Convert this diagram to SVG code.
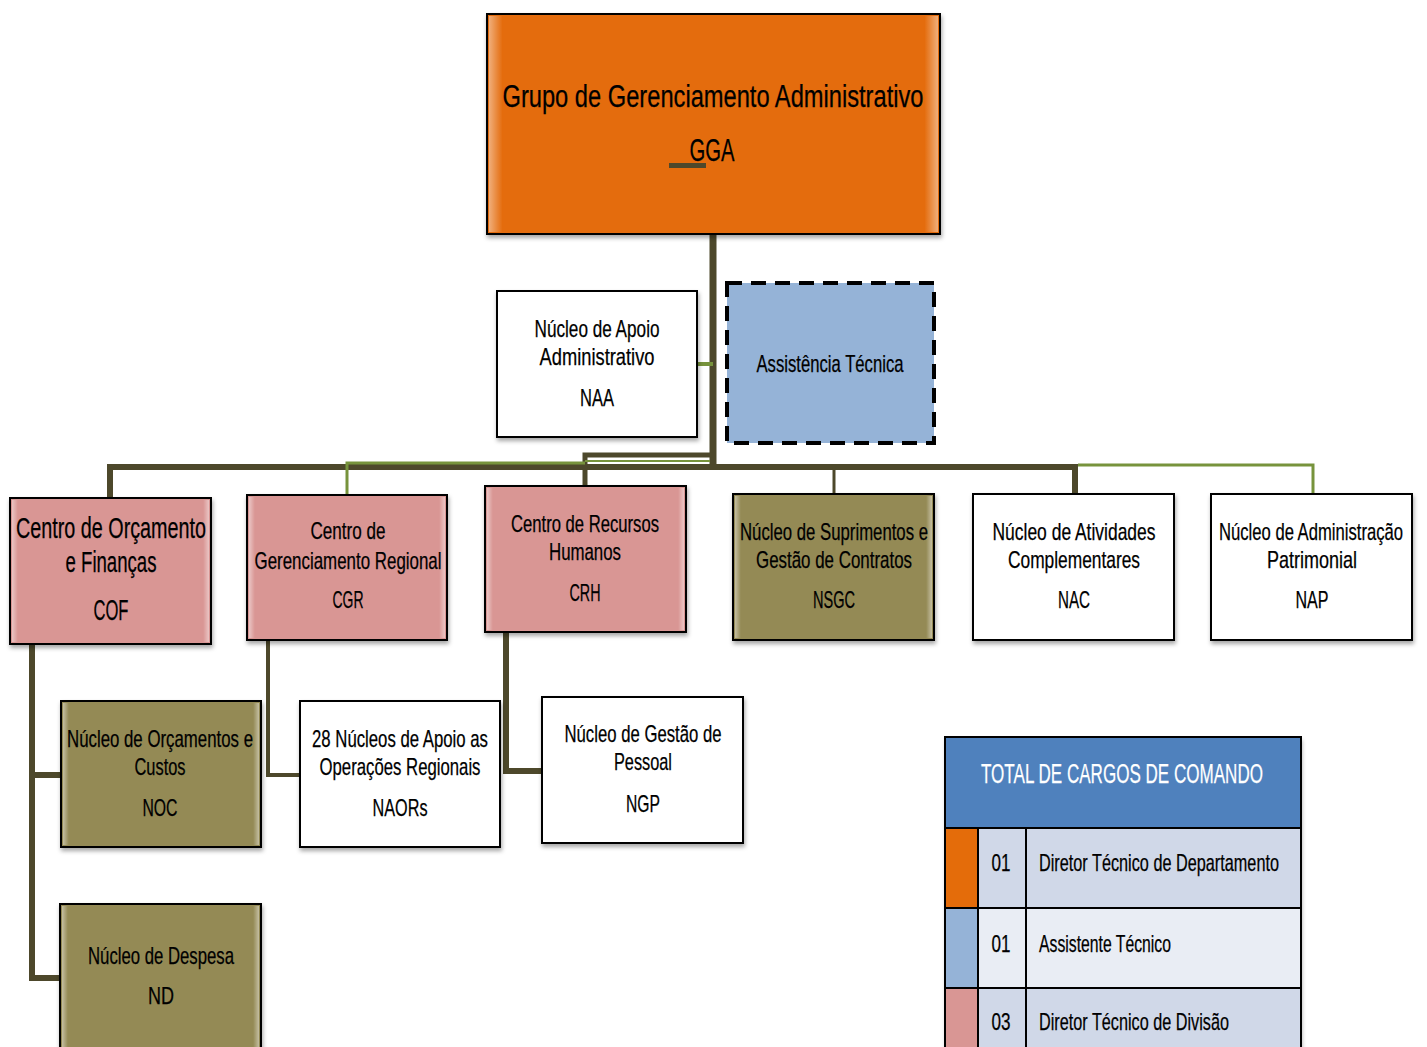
<svg xmlns="http://www.w3.org/2000/svg" width="1427" height="1047" viewBox="0 0 1427 1047">
<defs>
<filter id="sh" x="-10%" y="-10%" width="125%" height="125%">
<feDropShadow dx="1" dy="3" stdDeviation="2" flood-color="#000" flood-opacity="0.35"/>
</filter>
<linearGradient id="bev" x1="0" y1="0" x2="1" y2="0">
<stop offset="0" stop-color="#fff" stop-opacity="0.45"/>
<stop offset="0.03" stop-color="#fff" stop-opacity="0"/>
<stop offset="0.97" stop-color="#fff" stop-opacity="0"/>
<stop offset="1" stop-color="#fff" stop-opacity="0.45"/>
</linearGradient>
</defs>
<style>
.box{stroke:#000;stroke-width:2;filter:url(#sh)}
.or{fill:#E46C0A}
.pk{fill:#D99694}
.ol{fill:#948A54}
.wh{fill:#fff}
.bl{fill:#95B3D7}
.bev{fill:url(#bev);stroke:none}
text{font-family:"Liberation Sans Narrow","Liberation Sans",Arial,sans-serif;fill:#000;text-anchor:middle;font-size:24px;stroke:#000;stroke-width:0.25px}
.big{font-size:29px}
.ttl{font-size:31px}
.hd{font-size:27px;fill:#fff;stroke:#fff}
.lt{text-anchor:start}
.dk{fill:none;stroke:#4D482B;stroke-linejoin:miter}
.gr{fill:none;stroke:#77933C}
</style>

<g id="connectors">
<path class="dk" d="M713 234 V467" stroke-width="7"/>
<path class="gr" d="M697 364 H713" stroke-width="4"/>
<path class="dk" d="M110 498 V467 H1075 V494" stroke-width="6"/>
<path class="dk" d="M585 486 V455 H713" stroke-width="5"/>
<path class="gr" d="M585 461 H710" stroke-width="2"/>
<path class="gr" d="M347 495 V463 H585" stroke-width="3"/>
<path class="dk" d="M834 467 V494" stroke-width="3"/>
<path class="gr" d="M1078 465 H1313 V494" stroke-width="3"/>
<path class="dk" d="M32 644 V978 H61 M32 775 H61" stroke-width="6"/>
<path class="dk" d="M268 640 V775 H300" stroke-width="4"/>
<path class="dk" d="M506 632 V771 H542" stroke-width="6"/>
</g>

<g id="gga">
<rect class="box or" x="487" y="14" width="453" height="220"/>
<rect class="bev" x="489" y="16" width="449" height="216"/>
<text class="ttl" x="713" y="107" textLength="421" lengthAdjust="spacingAndGlyphs">Grupo de  Gerenciamento  Administrativo</text>
<text class="ttl" x="712" y="161" textLength="45" lengthAdjust="spacingAndGlyphs">GGA</text>
<rect x="669" y="163" width="37" height="5" fill="#4D482B"/>
</g>

<g id="naa">
<rect class="box wh" x="497" y="291" width="200" height="146"/>
<text x="597" y="337" textLength="125" lengthAdjust="spacingAndGlyphs">Núcleo de Apoio</text>
<text x="597" y="365" textLength="115" lengthAdjust="spacingAndGlyphs">Administrativo</text>
<text x="597" y="406" textLength="34" lengthAdjust="spacingAndGlyphs">NAA</text>
</g>

<g id="at">
<rect class="bl" x="727" y="283" width="207" height="160" stroke="#000" stroke-width="4" stroke-dasharray="15 9"/>
<text x="830" y="372" textLength="147" lengthAdjust="spacingAndGlyphs">Assistência Técnica</text>
</g>

<g id="cof">
<rect class="box pk" x="10" y="498" width="201" height="146"/>
<rect class="bev" x="12" y="500" width="197" height="142"/>
<text class="big" x="111" y="538" textLength="190" lengthAdjust="spacingAndGlyphs">Centro de Orçamento</text>
<text class="big" x="111" y="572" textLength="91" lengthAdjust="spacingAndGlyphs">e Finanças</text>
<text class="big" x="111" y="620" textLength="35" lengthAdjust="spacingAndGlyphs">COF</text>
</g>

<g id="cgr">
<rect class="box pk" x="247" y="495" width="200" height="145"/>
<rect class="bev" x="249" y="497" width="196" height="141"/>
<text x="348" y="539" textLength="75" lengthAdjust="spacingAndGlyphs">Centro de</text>
<text x="348" y="569" textLength="187" lengthAdjust="spacingAndGlyphs">Gerenciamento Regional</text>
<text x="348" y="608" textLength="31" lengthAdjust="spacingAndGlyphs">CGR</text>
</g>

<g id="crh">
<rect class="box pk" x="485" y="486" width="201" height="146"/>
<rect class="bev" x="487" y="488" width="197" height="142"/>
<text x="585" y="532" textLength="148" lengthAdjust="spacingAndGlyphs">Centro de Recursos</text>
<text x="585" y="560" textLength="72" lengthAdjust="spacingAndGlyphs">Humanos</text>
<text x="585" y="601" textLength="31" lengthAdjust="spacingAndGlyphs">CRH</text>
</g>

<g id="nsgc">
<rect class="box ol" x="733" y="494" width="201" height="146"/>
<rect class="bev" x="735" y="496" width="197" height="142"/>
<text x="834" y="540" textLength="188" lengthAdjust="spacingAndGlyphs">Núcleo de Suprimentos e</text>
<text x="834" y="568" textLength="156" lengthAdjust="spacingAndGlyphs">Gestão de Contratos</text>
<text x="834" y="608" textLength="42" lengthAdjust="spacingAndGlyphs">NSGC</text>
</g>

<g id="nac">
<rect class="box wh" x="973" y="494" width="201" height="146"/>
<text x="1074" y="540" textLength="163" lengthAdjust="spacingAndGlyphs">Núcleo de Atividades</text>
<text x="1074" y="568" textLength="132" lengthAdjust="spacingAndGlyphs">Complementares</text>
<text x="1074" y="608" textLength="32" lengthAdjust="spacingAndGlyphs">NAC</text>
</g>

<g id="nap">
<rect class="box wh" x="1211" y="494" width="201" height="146"/>
<text x="1311" y="540" textLength="184" lengthAdjust="spacingAndGlyphs">Núcleo de Administração</text>
<text x="1312" y="568" textLength="90" lengthAdjust="spacingAndGlyphs">Patrimonial</text>
<text x="1312" y="608" textLength="33" lengthAdjust="spacingAndGlyphs">NAP</text>
</g>

<g id="noc">
<rect class="box ol" x="61" y="701" width="200" height="146"/>
<rect class="bev" x="63" y="703" width="196" height="142"/>
<text x="160" y="747" textLength="186" lengthAdjust="spacingAndGlyphs">Núcleo de Orçamentos e</text>
<text x="160" y="775" textLength="51" lengthAdjust="spacingAndGlyphs">Custos</text>
<text x="160" y="816" textLength="35" lengthAdjust="spacingAndGlyphs">NOC</text>
</g>

<g id="naors">
<rect class="box wh" x="300" y="701" width="200" height="146"/>
<text x="400" y="747" textLength="176" lengthAdjust="spacingAndGlyphs">28 Núcleos de Apoio as</text>
<text x="400" y="775" textLength="161" lengthAdjust="spacingAndGlyphs">Operações Regionais</text>
<text x="400" y="816" textLength="55" lengthAdjust="spacingAndGlyphs">NAORs</text>
</g>

<g id="ngp">
<rect class="box wh" x="542" y="697" width="201" height="146"/>
<text x="643" y="742" textLength="157" lengthAdjust="spacingAndGlyphs">Núcleo de Gestão de</text>
<text x="643" y="770" textLength="58" lengthAdjust="spacingAndGlyphs">Pessoal</text>
<text x="643" y="812" textLength="34" lengthAdjust="spacingAndGlyphs">NGP</text>
</g>

<g id="nd">
<rect class="box ol" x="60" y="904" width="201" height="160"/>
<rect class="bev" x="62" y="906" width="197" height="156"/>
<text x="161" y="964" textLength="146" lengthAdjust="spacingAndGlyphs">Núcleo de Despesa</text>
<text x="161" y="1004" textLength="26" lengthAdjust="spacingAndGlyphs">ND</text>
</g>

<g id="table">
<rect x="945" y="737" width="356" height="320" fill="#fff" filter="url(#sh)"/>
<rect x="945" y="737" width="356" height="91" fill="#4F81BD" stroke="#000" stroke-width="2"/>
<text class="hd" x="1122" y="783" textLength="282" lengthAdjust="spacingAndGlyphs">TOTAL DE CARGOS DE COMANDO</text>
<rect x="945" y="828" width="356" height="80" fill="#D0D8E8" stroke="#000" stroke-width="2"/>
<rect x="945" y="908" width="356" height="80" fill="#E9EDF4" stroke="#000" stroke-width="2"/>
<rect x="945" y="988" width="356" height="80" fill="#D0D8E8" stroke="#000" stroke-width="2"/>
<rect x="946" y="829" width="32" height="78" fill="#E46C0A"/>
<rect x="946" y="909" width="32" height="78" fill="#95B3D7"/>
<rect x="946" y="989" width="32" height="78" fill="#D99694"/>
<path d="M978 828 V1047 M1026 828 V1047" stroke="#000" stroke-width="2"/>
<text x="1001" y="871" textLength="19" lengthAdjust="spacingAndGlyphs">01</text>
<text class="lt" x="1039" y="871" textLength="240" lengthAdjust="spacingAndGlyphs">Diretor Técnico de Departamento</text>
<text x="1001" y="952" textLength="19" lengthAdjust="spacingAndGlyphs">01</text>
<text class="lt" x="1039" y="952" textLength="132" lengthAdjust="spacingAndGlyphs">Assistente Técnico</text>
<text x="1001" y="1030" textLength="19" lengthAdjust="spacingAndGlyphs">03</text>
<text class="lt" x="1039" y="1030" textLength="190" lengthAdjust="spacingAndGlyphs">Diretor  Técnico de Divisão</text>
</g>
</svg>
